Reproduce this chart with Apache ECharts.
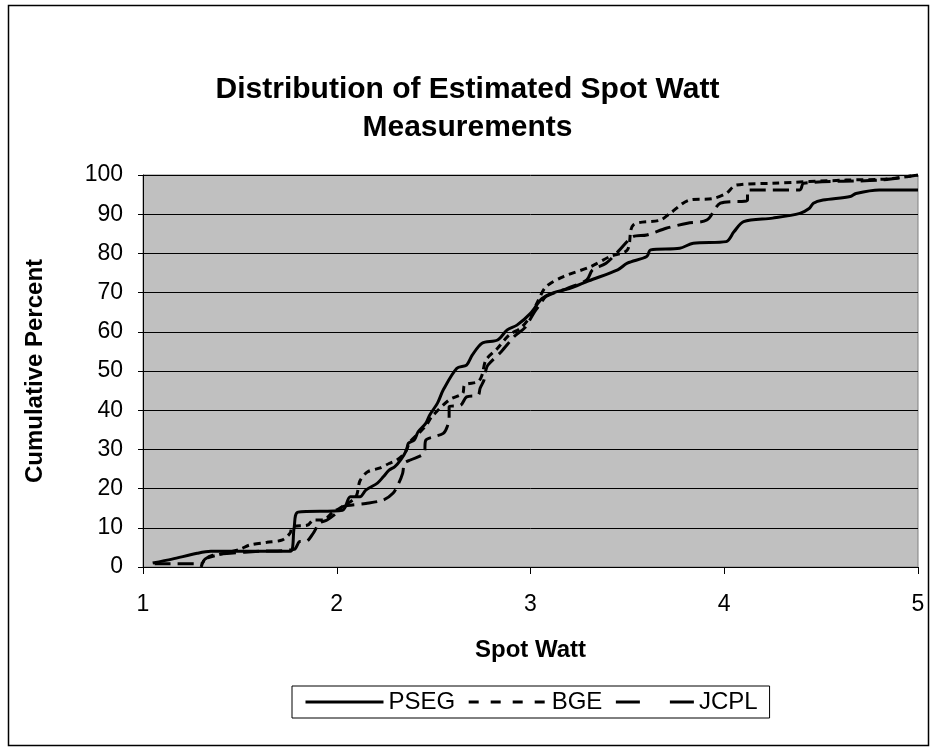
<!DOCTYPE html>
<html>
<head>
<meta charset="utf-8">
<script src="https://cdn.jsdelivr.net/npm/echarts@6/dist/echarts.min.js"></script>
<style>
  html, body { margin: 0; padding: 0; background: #fff; }
  #main { width: 935px; height: 750px; }
</style>
</head>
<body>
<div id="main"></div>
<script>
// cumulative percent vs spot watt
const psegData = [
  [1.05, 1], [1.15, 2], [1.28, 3.5], [1.35, 4], [1.76, 4], [1.78, 10], [1.80, 14],
  [2.03, 14.5], [2.07, 17.9], [2.12, 17.9], [2.15, 19.6], [2.21, 21.4], [2.24, 23],
  [2.27, 24.7], [2.30, 25.6], [2.33, 27.3], [2.36, 29.8], [2.37, 31.6], [2.40, 32.4],
  [2.42, 34.5], [2.46, 36.7], [2.48, 38.8], [2.52, 41.8], [2.55, 45.2], [2.62, 50.7],
  [2.67, 51.5], [2.70, 54.1], [2.75, 57.1], [2.83, 57.9], [2.88, 60.5], [2.93, 61.7],
  [3.0, 64.7], [3.06, 68.5], [3.12, 70], [3.2, 71], [3.3, 73], [3.45, 75.8], [3.5, 77.5],
  [3.6, 79.2], [3.62, 80.9], [3.77, 81.3], [3.84, 82.6], [4.01, 83], [4.05, 85.5],
  [4.10, 88.1], [4.25, 89], [4.39, 90.2], [4.44, 91.5], [4.46, 92.8], [4.51, 93.6],
  [4.65, 94.5], [4.68, 95.3], [4.80, 96.2], [5.0, 96.2]
]
const bgeData = [
  [1.30, 0], [1.32, 2], [1.38, 3], [1.5, 4.5], [1.55, 5.6], [1.64, 6.3], [1.72, 6.9],
  [1.76, 8.7], [1.77, 10.3], [1.85, 10.7], [1.88, 12], [1.93, 12], [1.98, 14],
  [2.05, 16], [2.10, 18], [2.12, 22], [2.16, 24.3], [2.22, 25.2], [2.27, 26.4],
  [2.31, 27.3], [2.35, 29], [2.38, 32], [2.42, 34], [2.46, 36], [2.49, 38.3],
  [2.58, 42.6], [2.65, 44.3], [2.66, 46.4], [2.73, 47.3], [2.75, 49], [2.77, 52.8],
  [2.83, 55.8], [2.89, 59.2], [2.95, 61], [3.0, 64], [3.04, 68], [3.08, 71.5],
  [3.17, 74.1], [3.31, 76.6], [3.41, 79.2], [3.50, 80.9], [3.53, 87.2], [3.67, 88.5],
  [3.72, 90.2], [3.82, 93.6], [3.94, 94], [4.01, 95.3], [4.06, 97.4], [4.25, 97.9],
  [4.63, 98.7], [4.85, 99], [5.0, 100]
]
const jcplData = [
  [1.06, 0.8], [1.30, 0.8], [1.32, 2], [1.36, 3], [1.45, 3.5], [1.6, 4], [1.78, 4.5],
  [1.81, 6.5], [1.84, 6.5], [1.88, 8.7], [1.91, 11.2], [1.95, 12], [2.0, 13.8],
  [2.03, 15.4], [2.15, 16.2], [2.24, 17.1], [2.29, 18.8], [2.32, 21.4], [2.34, 23.9],
  [2.35, 26.5], [2.38, 27.3], [2.45, 29], [2.46, 32.4], [2.50, 33.2], [2.55, 34.1],
  [2.57, 35.8], [2.58, 38.3], [2.58, 40.9], [2.64, 41.3], [2.67, 43.4], [2.73, 43.9],
  [2.74, 45.6], [2.76, 47.7], [2.77, 50.3], [2.78, 51.5], [2.85, 55], [2.92, 59],
  [2.97, 61], [3.02, 65], [3.05, 67], [3.08, 69], [3.19, 71.1], [3.29, 73.2],
  [3.32, 75.8], [3.39, 77.5], [3.46, 80.9], [3.53, 84.3], [3.60, 84.7], [3.70, 86.4],
  [3.81, 87.7], [3.91, 88.5], [3.98, 92.8], [4.12, 93.6], [4.12, 96.2], [4.39, 96.2],
  [4.41, 97.9], [4.80, 98.7], [5.0, 100]
]

const font = 'Liberation Sans, Arial, sans-serif'

let chart = echarts.init(document.getElementById('main'))

const lineSeries = (name, data, type) => ({
  name: name,
  type: 'line',
  data: data,
  symbol: 'none',
  smooth: 0.3,
  lineStyle: { color: '#000', width: 3, type: type },
  itemStyle: { color: '#000' }
})

const option = {
  backgroundColor: '#fff',
  animation: false,
  title: {
    text: 'Distribution of Estimated Spot Watt\nMeasurements',
    left: 'center',
    top: 66,
    textStyle: { fontFamily: font, fontSize: 30, fontWeight: 'bold', color: '#000', lineHeight: 38 }
  },
  graphic: [
    {
      type: 'rect',
      shape: { x: 8.5, y: 5.5, width: 920, height: 740 },
      style: { fill: 'none', stroke: '#000', lineWidth: 1.5 },
      silent: true
    }
  ],
  legend: {
    bottom: 32,
    left: 292,
    itemWidth: 78,
    itemHeight: 14,
    itemGap: 12,
    padding: [4, 12, 4, 12],
    borderColor: '#000',
    borderWidth: 1,
    borderRadius: 0,
    itemStyle: { opacity: 0 },
    textStyle: { fontFamily: font, fontSize: 24, color: '#000' },
    data: [
      { name: 'PSEG', lineStyle: { width: 3, type: 'solid' } },
      { name: 'BGE', lineStyle: { width: 3, type: [10, 12] } },
      { name: 'JCPL', lineStyle: { width: 3, type: [24, 30] } }
    ]
  },
  grid: {
    left: 143,
    right: 17,
    top: 175,
    bottom: 183,
    show: true,
    backgroundColor: '#C0C0C0',
    borderColor: '#808080',
    borderWidth: 1
  },
  xAxis: {
    type: 'value',
    min: 1,
    max: 5,
    interval: 1,
    name: 'Spot Watt',
    nameLocation: 'middle',
    nameGap: 71,
    nameTextStyle: { fontFamily: font, fontSize: 24, fontWeight: 'bold', color: '#000' },
    axisLine: { lineStyle: { color: '#000', width: 1 } },
    axisTick: { length: 7, lineStyle: { color: '#000' } },
    axisLabel: { fontFamily: font, fontSize: 23, color: '#000', margin: 26 },
    splitLine: { show: false }
  },
  yAxis: {
    type: 'value',
    min: 0,
    max: 100,
    interval: 10,
    name: 'Cumulative Percent',
    nameLocation: 'middle',
    nameGap: 96,
    nameTextStyle: { fontFamily: font, fontSize: 24, fontWeight: 'bold', color: '#000' },
    axisLine: { show: true, lineStyle: { color: '#000', width: 1 } },
    axisTick: { show: true, length: 5, lineStyle: { color: '#000' } },
    axisLabel: { fontFamily: font, fontSize: 23, color: '#000', margin: 20 },
    splitLine: { lineStyle: { color: '#000', width: 1 } }
  },
  series: [
    lineSeries('PSEG', psegData, 'solid'),
    lineSeries('BGE', bgeData, [7, 5]),
    lineSeries('JCPL', jcplData, [16, 7])
  ]
}

chart.setOption(option)
</script>
</body>
</html>
